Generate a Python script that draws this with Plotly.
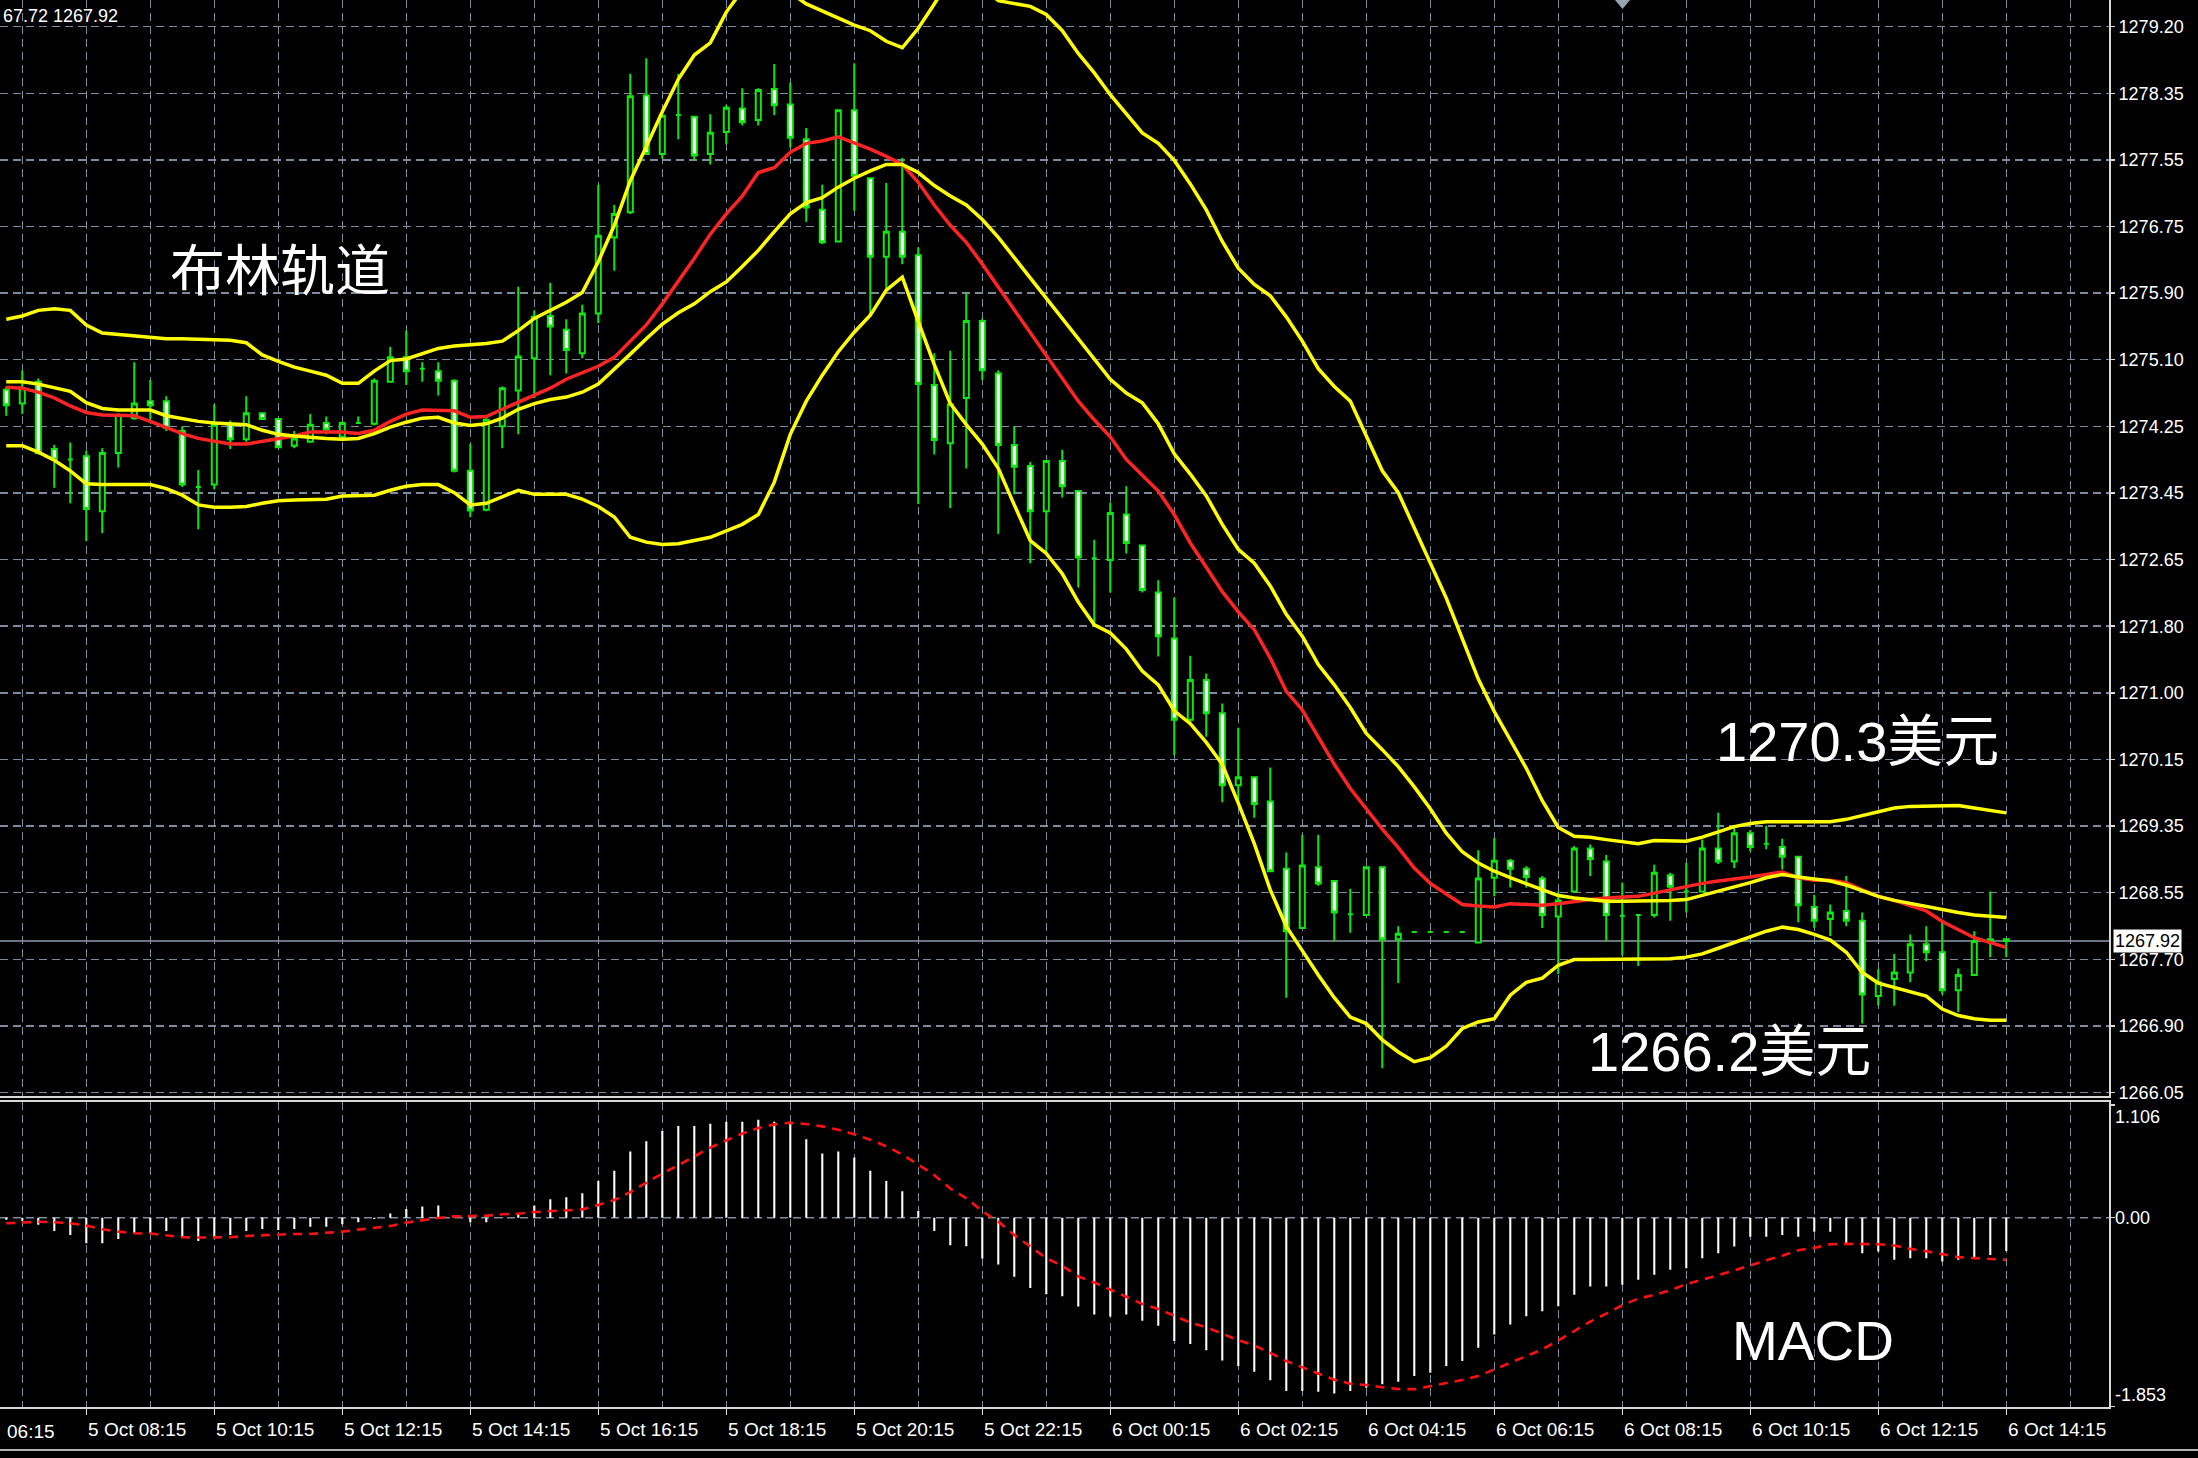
import numpy as np
import plotly.graph_objects as go

# ---------------- data (15-minute bars, 5 Oct 07:00 ... 6 Oct 14:15) ----------------
open_ = [1274.72, 1274.55, 1274.82, 1273.99, 1273.86, 1273.90, 1273.22, 1273.94, 1274.37, 1274.58,
         1274.58, 1274.21, 1273.52, 1273.55, 1274.29, 1274.11, 1274.43, 1274.36, 1274.03, 1274.08,
         1274.31, 1274.14, 1274.31, 1274.30, 1274.82, 1275.12, 1274.98, 1274.95, 1274.83, 1273.72,
         1273.24, 1274.27, 1274.71, 1275.11, 1275.63, 1275.46, 1275.17, 1275.66, 1276.60, 1276.91,
         1278.35, 1277.63, 1278.11, 1278.09, 1277.63, 1277.90, 1278.19, 1278.05, 1278.43, 1278.24,
         1277.81, 1276.94, 1276.55, 1278.17, 1277.33, 1276.36, 1276.67, 1276.38, 1274.78, 1274.06,
         1274.62, 1275.57, 1274.92, 1274.04, 1273.78, 1273.22, 1273.84, 1273.47, 1272.64, 1272.62,
         1273.18, 1272.80, 1272.22, 1271.65, 1270.65, 1271.14, 1270.73, 1269.84, 1269.94, 1269.64,
         1268.81, 1268.08, 1268.83, 1268.66, 1268.25, 1268.24, 1268.83, 1267.94, 1268.03, 1268.03,
         1268.03, 1268.03, 1267.90, 1268.70, 1268.91, 1268.81, 1268.69, 1268.22, 1268.53, 1269.06,
         1268.90, 1268.23, 1268.24, 1268.24, 1268.73, 1268.53, 1268.53, 1269.06, 1268.90, 1269.25,
         1269.12, 1269.08, 1268.96, 1268.34, 1268.19, 1268.29, 1268.17, 1267.24, 1267.45, 1267.53,
         1267.88, 1267.78, 1267.31, 1267.50, 1267.92, 1267.94]
high = [1274.76, 1274.96, 1274.86, 1274.04, 1274.07, 1273.97, 1274.00, 1274.43, 1275.06, 1274.84,
        1274.64, 1274.27, 1273.73, 1274.54, 1274.34, 1274.64, 1274.44, 1274.37, 1274.21, 1274.42,
        1274.39, 1274.33, 1274.39, 1274.86, 1275.25, 1275.45, 1275.06, 1275.06, 1274.85, 1274.05,
        1274.37, 1274.76, 1275.99, 1275.70, 1276.04, 1275.59, 1275.77, 1277.25, 1277.00, 1278.62,
        1278.81, 1278.10, 1278.62, 1278.09, 1278.12, 1278.23, 1278.44, 1278.44, 1278.74, 1278.51,
        1277.95, 1277.25, 1278.17, 1278.75, 1277.33, 1277.27, 1277.58, 1276.48, 1275.17, 1275.20,
        1275.91, 1275.60, 1274.96, 1274.27, 1273.83, 1273.85, 1273.98, 1273.47, 1272.87, 1273.33,
        1273.53, 1272.80, 1272.37, 1272.16, 1271.44, 1271.22, 1270.85, 1270.55, 1269.94, 1270.06,
        1269.01, 1269.23, 1269.23, 1268.66, 1268.56, 1268.83, 1268.83, 1268.10, 1268.03, 1268.03,
        1268.03, 1268.03, 1269.04, 1269.19, 1268.93, 1268.84, 1268.72, 1268.53, 1269.09, 1269.11,
        1268.98, 1268.64, 1268.24, 1268.86, 1268.76, 1268.88, 1269.17, 1269.50, 1269.35, 1269.29,
        1269.34, 1269.18, 1268.96, 1268.49, 1268.37, 1268.72, 1268.27, 1267.57, 1267.76, 1268.00,
        1268.10, 1268.15, 1267.58, 1268.04, 1268.53, 1267.94]
low = [1274.40, 1274.42, 1273.92, 1273.51, 1273.32, 1272.85, 1272.95, 1273.76, 1274.35, 1274.33,
       1274.21, 1273.52, 1273.00, 1273.49, 1273.99, 1274.08, 1274.35, 1274.00, 1274.00, 1274.07,
       1274.17, 1274.13, 1274.30, 1274.28, 1274.81, 1274.78, 1274.82, 1274.65, 1273.70, 1273.15,
       1273.22, 1274.00, 1274.17, 1274.62, 1274.90, 1274.92, 1275.11, 1275.54, 1276.19, 1276.89,
       1277.62, 1277.57, 1277.81, 1277.55, 1277.50, 1277.75, 1277.98, 1277.98, 1278.11, 1277.71,
       1276.79, 1276.52, 1276.54, 1276.93, 1275.64, 1275.97, 1276.27, 1273.31, 1273.92, 1273.26,
       1273.75, 1274.84, 1272.94, 1273.43, 1272.58, 1272.69, 1273.39, 1272.28, 1271.80, 1272.22,
       1272.70, 1272.22, 1271.43, 1270.21, 1270.58, 1270.44, 1269.63, 1269.63, 1269.44, 1268.78,
       1267.22, 1268.08, 1268.60, 1267.92, 1268.02, 1268.24, 1266.35, 1267.40, 1268.03, 1268.03,
       1268.03, 1268.03, 1267.89, 1268.47, 1268.58, 1268.58, 1268.08, 1267.51, 1268.53, 1268.72,
       1267.92, 1267.74, 1267.61, 1268.21, 1268.17, 1268.27, 1268.53, 1268.87, 1268.82, 1269.03,
       1269.05, 1268.80, 1268.15, 1268.08, 1267.98, 1268.10, 1266.90, 1267.12, 1267.12, 1267.41,
       1267.67, 1267.26, 1267.04, 1267.50, 1267.72, 1267.72]
close = [1274.53, 1274.74, 1273.94, 1273.86, 1273.86, 1273.25, 1273.94, 1274.41, 1274.55, 1274.53,
         1274.25, 1273.55, 1273.52, 1274.29, 1274.11, 1274.43, 1274.36, 1274.01, 1274.12, 1274.29,
         1274.23, 1274.31, 1274.31, 1274.83, 1275.12, 1274.95, 1274.98, 1274.83, 1273.72, 1273.23,
         1274.35, 1274.74, 1275.13, 1275.62, 1275.50, 1275.21, 1275.66, 1276.62, 1276.89, 1278.34,
         1277.63, 1278.10, 1278.11, 1277.61, 1277.89, 1278.20, 1278.02, 1278.42, 1278.23, 1277.83,
         1276.97, 1276.54, 1278.17, 1277.36, 1276.36, 1276.67, 1276.36, 1274.79, 1274.10, 1274.54,
         1275.57, 1274.96, 1274.04, 1273.77, 1273.22, 1273.84, 1273.53, 1272.65, 1272.64, 1273.20,
         1272.83, 1272.25, 1271.68, 1270.65, 1271.14, 1270.73, 1269.84, 1269.94, 1269.61, 1268.78,
         1268.04, 1268.85, 1268.63, 1268.27, 1268.25, 1268.83, 1267.94, 1268.01, 1268.03, 1268.03,
         1268.03, 1268.03, 1268.69, 1268.91, 1268.81, 1268.71, 1268.24, 1268.42, 1269.06, 1268.93,
         1268.24, 1268.23, 1268.24, 1268.76, 1268.59, 1268.53, 1269.06, 1268.90, 1269.25, 1269.08,
         1269.12, 1268.96, 1268.36, 1268.17, 1268.27, 1268.17, 1267.26, 1267.41, 1267.53, 1267.88,
         1267.78, 1267.31, 1267.50, 1267.92, 1267.94, 1267.92]

bb_upper = [1275.59, 1275.63, 1275.70, 1275.72, 1275.70, 1275.52, 1275.42, 1275.40, 1275.38, 1275.36,
            1275.35, 1275.35, 1275.34, 1275.33, 1275.33, 1275.30, 1275.15, 1275.07, 1275.00, 1274.95,
            1274.90, 1274.80, 1274.80, 1274.95, 1275.08, 1275.10, 1275.16, 1275.23, 1275.26, 1275.27,
            1275.29, 1275.32, 1275.45, 1275.60, 1275.70, 1275.80, 1275.92, 1276.30, 1276.75, 1277.30,
            1277.72, 1278.15, 1278.55, 1278.85, 1279.00, 1279.38, 1279.65, 1279.85, 1279.95, 1279.62,
            1279.48, 1279.39, 1279.30, 1279.22, 1279.15, 1279.02, 1278.94, 1279.18, 1279.48, 1279.80,
            1279.90, 1279.70, 1279.52, 1279.49, 1279.45, 1279.35, 1279.15, 1278.87, 1278.63, 1278.36,
            1278.12, 1277.89, 1277.76, 1277.55, 1277.26, 1276.94, 1276.55, 1276.22, 1276.02, 1275.88,
            1275.62, 1275.32, 1274.98, 1274.76, 1274.58, 1274.15, 1273.72, 1273.45, 1273.02, 1272.60,
            1272.15, 1271.65, 1271.15, 1270.75, 1270.40, 1270.05, 1269.65, 1269.32, 1269.21, 1269.20,
            1269.17, 1269.14, 1269.12, 1269.16, 1269.16, 1269.15, 1269.20, 1269.27, 1269.33, 1269.37,
            1269.39, 1269.39, 1269.39, 1269.39, 1269.39, 1269.42, 1269.47, 1269.52, 1269.56, 1269.58,
            1269.58, 1269.59, 1269.59, 1269.56, 1269.53, 1269.50]
bb_middle = [1274.82, 1274.82, 1274.79, 1274.75, 1274.70, 1274.56, 1274.49, 1274.47, 1274.47, 1274.47,
             1274.40, 1274.36, 1274.33, 1274.31, 1274.30, 1274.29, 1274.22, 1274.17, 1274.15, 1274.13,
             1274.12, 1274.11, 1274.12, 1274.18, 1274.26, 1274.32, 1274.37, 1274.38, 1274.31, 1274.28,
             1274.30, 1274.37, 1274.48, 1274.55, 1274.60, 1274.63, 1274.69, 1274.79, 1274.97, 1275.16,
             1275.35, 1275.53, 1275.67, 1275.78, 1275.93, 1276.05, 1276.24, 1276.44, 1276.67, 1276.89,
             1277.03, 1277.09, 1277.22, 1277.33, 1277.42, 1277.50, 1277.50, 1277.40, 1277.24, 1277.11,
             1277.00, 1276.82, 1276.60, 1276.35, 1276.10, 1275.85, 1275.60, 1275.35, 1275.10, 1274.85,
             1274.68, 1274.56, 1274.30, 1273.93, 1273.68, 1273.41, 1273.06, 1272.75, 1272.58, 1272.30,
             1271.95, 1271.68, 1271.33, 1271.08, 1270.80, 1270.48, 1270.28, 1270.07, 1269.82, 1269.55,
             1269.25, 1269.02, 1268.88, 1268.78, 1268.70, 1268.63, 1268.56, 1268.48, 1268.45, 1268.43,
             1268.41, 1268.41, 1268.41, 1268.42, 1268.42, 1268.43, 1268.48, 1268.53, 1268.58, 1268.64,
             1268.70, 1268.74, 1268.71, 1268.69, 1268.66, 1268.61, 1268.54, 1268.47, 1268.42, 1268.38,
             1268.35, 1268.31, 1268.27, 1268.24, 1268.22, 1268.21]
bb_lower = [1274.03, 1274.03, 1273.95, 1273.85, 1273.72, 1273.56, 1273.55, 1273.55, 1273.55, 1273.55,
            1273.50, 1273.42, 1273.30, 1273.27, 1273.27, 1273.28, 1273.32, 1273.35, 1273.36, 1273.36,
            1273.37, 1273.41, 1273.42, 1273.42, 1273.48, 1273.53, 1273.55, 1273.55, 1273.45, 1273.30,
            1273.32, 1273.40, 1273.48, 1273.43, 1273.43, 1273.43, 1273.37, 1273.28, 1273.15, 1272.90,
            1272.84, 1272.81, 1272.82, 1272.86, 1272.90, 1272.98, 1273.06, 1273.18, 1273.58, 1274.17,
            1274.58, 1274.90, 1275.19, 1275.43, 1275.64, 1275.95, 1276.11, 1275.56, 1275.03, 1274.55,
            1274.29, 1274.05, 1273.75, 1273.30, 1272.86, 1272.70, 1272.45, 1272.10, 1271.82, 1271.72,
            1271.52, 1271.25, 1271.08, 1270.76, 1270.60, 1270.37, 1270.10, 1269.62, 1269.12, 1268.55,
            1268.10, 1267.80, 1267.50, 1267.22, 1266.98, 1266.90, 1266.70, 1266.55, 1266.43, 1266.48,
            1266.62, 1266.84, 1266.92, 1266.96, 1267.25, 1267.41, 1267.46, 1267.62, 1267.69, 1267.69,
            1267.69, 1267.69, 1267.69, 1267.70, 1267.70, 1267.72, 1267.76, 1267.83, 1267.90, 1267.96,
            1268.04, 1268.09, 1268.06, 1268.00, 1267.93, 1267.78, 1267.53, 1267.40, 1267.35, 1267.29,
            1267.24, 1267.08, 1267.00, 1266.96, 1266.94, 1266.94]
ma_red = [1274.75, 1274.74, 1274.69, 1274.62, 1274.52, 1274.44, 1274.41, 1274.40, 1274.40, 1274.33,
          1274.25, 1274.18, 1274.12, 1274.08, 1274.05, 1274.05, 1274.08, 1274.12, 1274.15, 1274.20,
          1274.20, 1274.20, 1274.18, 1274.22, 1274.33, 1274.42, 1274.47, 1274.47, 1274.46, 1274.38,
          1274.39, 1274.48, 1274.57, 1274.66, 1274.74, 1274.85, 1274.93, 1275.01, 1275.12, 1275.32,
          1275.52, 1275.78, 1276.06, 1276.34, 1276.64, 1276.89, 1277.11, 1277.40, 1277.46, 1277.65,
          1277.76, 1277.79, 1277.84, 1277.77, 1277.69, 1277.60, 1277.50, 1277.28, 1277.00, 1276.75,
          1276.54, 1276.27, 1275.99, 1275.70, 1275.42, 1275.15, 1274.87, 1274.58, 1274.35, 1274.14,
          1273.86, 1273.66, 1273.47, 1273.18, 1272.83, 1272.53, 1272.23, 1271.98, 1271.76, 1271.41,
          1271.00, 1270.77, 1270.44, 1270.10, 1269.80, 1269.55, 1269.30, 1269.07, 1268.82, 1268.63,
          1268.50, 1268.37, 1268.35, 1268.34, 1268.38, 1268.37, 1268.36, 1268.38, 1268.41, 1268.43,
          1268.45, 1268.46, 1268.47, 1268.51, 1268.55, 1268.60, 1268.63, 1268.66, 1268.68, 1268.71,
          1268.74, 1268.77, 1268.70, 1268.67, 1268.67, 1268.64, 1268.55, 1268.47, 1268.42, 1268.35,
          1268.29, 1268.16, 1268.06, 1267.96, 1267.90, 1267.84]

macd_hist = [-0.02, -0.03, -0.07, -0.13, -0.17, -0.25, -0.25, -0.21, -0.15, -0.15,
             -0.13, -0.20, -0.23, -0.19, -0.17, -0.13, -0.11, -0.12, -0.11, -0.09,
             -0.09, -0.065, -0.045, -0.013, 0.04, 0.085, 0.11, 0.12, 0.01, -0.045,
             -0.045, 0.005, 0.03, 0.12, 0.18, 0.20, 0.24, 0.36, 0.46, 0.65,
             0.75, 0.85, 0.90, 0.90, 0.92, 0.94, 0.94, 0.96, 0.94, 0.94,
             0.77, 0.63, 0.65, 0.59, 0.46, 0.36, 0.26, 0.065, -0.13, -0.27,
             -0.28, -0.40, -0.46, -0.58, -0.69, -0.75, -0.77, -0.87, -0.95, -0.97,
             -0.95, -1.01, -1.06, -1.21, -1.24, -1.30, -1.40, -1.455, -1.51, -1.595,
             -1.70, -1.70, -1.706, -1.725, -1.70, -1.667, -1.634, -1.608, -1.553, -1.52,
             -1.455, -1.406, -1.276, -1.146, -1.048, -0.967, -0.918, -0.869, -0.755, -0.674,
             -0.674, -0.658, -0.609, -0.56, -0.511, -0.495, -0.397, -0.348, -0.283, -0.186,
             -0.186, -0.169, -0.186, -0.137, -0.137, -0.267, -0.348, -0.332, -0.413, -0.397,
             -0.397, -0.43, -0.413, -0.397, -0.365, -0.326]
macd_signal = [-0.055, -0.05, -0.04, -0.045, -0.055, -0.078, -0.114, -0.137, -0.153, -0.156,
               -0.173, -0.192, -0.195, -0.195, -0.192, -0.179, -0.173, -0.163, -0.16, -0.16,
               -0.15, -0.137, -0.117, -0.098, -0.081, -0.049, -0.023, -0.003, 0.013, 0.016,
               0.02, 0.033, 0.039, 0.055, 0.062, 0.075, 0.081, 0.124, 0.173, 0.251,
               0.345, 0.433, 0.514, 0.602, 0.687, 0.758, 0.824, 0.879, 0.915, 0.931,
               0.918, 0.895, 0.863, 0.817, 0.765, 0.70, 0.618, 0.521, 0.417, 0.286,
               0.189, 0.065, -0.039, -0.169, -0.283, -0.397, -0.472, -0.576, -0.635, -0.706,
               -0.781, -0.846, -0.895, -0.964, -1.029, -1.074, -1.139, -1.201, -1.253, -1.325,
               -1.406, -1.468, -1.53, -1.589, -1.628, -1.641, -1.663, -1.68, -1.683, -1.654,
               -1.621, -1.592, -1.553, -1.488, -1.416, -1.357, -1.292, -1.204, -1.113, -1.019,
               -0.941, -0.859, -0.794, -0.758, -0.713, -0.651, -0.609, -0.566, -0.518, -0.469,
               -0.417, -0.374, -0.319, -0.296, -0.26, -0.257, -0.257, -0.26, -0.273, -0.306,
               -0.329, -0.358, -0.387, -0.397, -0.404, -0.413]

x_tick_bars = [5, 13, 21, 29, 37, 45, 53, 61, 69, 77, 85, 93, 101, 109, 117, 125]
x_tick_text = ["5 Oct 08:15", "5 Oct 10:15", "5 Oct 12:15", "5 Oct 14:15", "5 Oct 16:15",
               "5 Oct 18:15", "5 Oct 20:15", "5 Oct 22:15", "6 Oct 00:15", "6 Oct 02:15",
               "6 Oct 04:15", "6 Oct 06:15", "6 Oct 08:15", "6 Oct 10:15", "6 Oct 12:15",
               "6 Oct 14:15"]
y_tick_text = ["1279.20", "1278.35", "1277.55", "1276.75", "1275.90", "1275.10", "1274.25",
               "1273.45", "1272.65", "1271.80", "1271.00", "1270.15", "1269.35", "1268.55",
               "1267.70", "1266.90", "1266.05"]
y_tick_top, y_tick_bottom = 1279.20, 1266.05
macd_tick_vals = [1.106, 0.0, -1.853]
macd_tick_text = ["1.106", "0.00", "-1.853"]
bid = 1267.92
header_text = "67.72 1267.92"

# ---------------- styling ----------------
W, H = 2198, 1458
GREEN = "#14e614"
YEL = "#ffff00"
RED = "#ff2424"
GRID = "#7c8c9e"
GDASH = "8px,5px"
AX = "#d8d8d8"
FONT = "Liberation Sans, Arial, sans-serif"
CJK = "Liberation Sans, Arial, Noto Sans CJK SC, sans-serif"

XR = 2109 / W                      # right edge of the panes (price scale line)
x_lo, x_hi = -0.394, 131.42        # bar-index range shown
p_lo, p_hi = 1266.001, 1279.529    # price range of the main pane
m_lo, m_hi = -1.8584, 1.1299       # MACD pane range
Y1 = [1 - 1101 / H, 1.0]
Y2 = [1 - 1413 / H, 1 - 1107 / H]

xb = list(range(len(close)))
yt = list(np.linspace(y_tick_top, y_tick_bottom, len(y_tick_text)))

fig = go.Figure()
fig.add_trace(go.Candlestick(
    x=xb, open=open_, high=high, low=low, close=close,
    increasing=dict(line=dict(color=GREEN, width=2), fillcolor="#000000"),
    decreasing=dict(line=dict(color=GREEN, width=2), fillcolor="#ffffff"),
    whiskerwidth=0, hoverinfo="skip", xaxis="x", yaxis="y"))
for vals, col in [(ma_red, RED), (bb_middle, YEL), (bb_upper, YEL), (bb_lower, YEL)]:
    fig.add_trace(go.Scatter(x=xb, y=vals, mode="lines", line=dict(color=col, width=3.5),
                             hoverinfo="skip", xaxis="x", yaxis="y"))
fig.add_trace(go.Bar(x=xb, y=macd_hist, width=0.13, marker=dict(color="#ffffff", line=dict(width=0)),
                     hoverinfo="skip", xaxis="x2", yaxis="y2"))
fig.add_trace(go.Scatter(x=xb, y=macd_signal, mode="lines",
                         line=dict(color="#ff1010", width=2.6, dash="9px,7px"),
                         hoverinfo="skip", xaxis="x2", yaxis="y2"))

grid = dict(showgrid=True, gridcolor=GRID, griddash=GDASH, gridwidth=1.5)
fig.update_layout(
    width=W, height=H, margin=dict(l=0, r=0, t=0, b=0),
    paper_bgcolor="#000000", plot_bgcolor="#000000",
    showlegend=False, hovermode=False, boxgap=0.55, dragmode=False,
    xaxis=dict(domain=[0, XR], range=[x_lo, x_hi], anchor="y", rangeslider=dict(visible=False),
               showline=True, linecolor=AX, linewidth=2, tickmode="linear", tick0=1, dtick=4,
               showticklabels=False, ticks="", zeroline=False, fixedrange=True, **grid),
    yaxis=dict(domain=Y1, range=[p_lo, p_hi], anchor="x", side="right",
               showline=True, linecolor=AX, linewidth=2,
               tickmode="array", tickvals=yt, ticktext=y_tick_text,
               ticks="outside", ticklen=4, tickwidth=1.5, tickcolor=AX,
               tickfont=dict(color="#ffffff", size=18, family=FONT),
               zeroline=False, fixedrange=True, **grid),
    xaxis2=dict(domain=[0, XR], range=[x_lo, x_hi], anchor="y2",
                showline=True, mirror=True, linecolor=AX, linewidth=2,
                tickmode="array", tickvals=x_tick_bars, ticktext=x_tick_text,
                ticks="outside", ticklen=6, tickwidth=1.5, tickcolor=AX,
                ticklabelposition="outside right", ticklabelstandoff=4,
                tickfont=dict(color="#ffffff", size=19, family=FONT),
                zeroline=False, fixedrange=True,
                minor=dict(tickmode="linear", tick0=1, dtick=4, ticks="", **grid), **grid),
    yaxis2=dict(domain=Y2, range=[m_lo, m_hi], anchor="x2", side="right",
                showline=True, linecolor=AX, linewidth=2,
                tickmode="array", tickvals=macd_tick_vals, showticklabels=False,
                ticks="outside", ticklen=4, tickwidth=1.5, tickcolor=AX,
                showgrid=False, zeroline=False, fixedrange=True),
)

shapes = [
    dict(type="line", xref="x2 domain", x0=0, x1=1, yref="y2", y0=0, y1=0,
         line=dict(color=GRID, width=1.5, dash=GDASH), layer="below"),
    dict(type="line", xref="x domain", x0=0, x1=1, yref="y", y0=bid, y1=bid,
         line=dict(color="#8e9cab", width=1.5), layer="below"),
    dict(type="line", xref="paper", x0=0, x1=1, yref="paper", y0=1 - 1456 / H, y1=1 - 1456 / H,
         line=dict(color="#b0b0b0", width=2)),
    dict(type="path", xref="paper", yref="paper",
         path=f"M {1615 / W} 1 L {1630 / W} 1 L {1622.5 / W} {1 - 9 / H} Z",
         fillcolor="#9aa4b0", line=dict(width=0)),
]
fig.update_layout(shapes=shapes)

ann = []
# MACD scale labels
for v, t, ya in zip(macd_tick_vals, macd_tick_text, ["top", "middle", "bottom"]):
    ann.append(dict(xref="paper", x=2113 / W, xanchor="left", yref="y2", y=v, yanchor=ya,
                    text=t, showarrow=False, font=dict(color="#ffffff", size=18, family=FONT)))
# current price box
ann.append(dict(xref="paper", x=2113 / W, xanchor="left", yref="y", y=bid, yanchor="middle",
                text=f"{bid:.2f}", showarrow=False, bgcolor="#ffffff", borderpad=1,
                font=dict(color="#000000", size=18, family=FONT)))
# header and clipped first time label
ann.append(dict(xref="paper", x=1 / W, xanchor="left", yref="paper", y=1 - 16 / H, yanchor="middle",
                text=header_text, showarrow=False, font=dict(color="#ffffff", size=18, family=FONT)))
ann.append(dict(xref="paper", x=5 / W, xanchor="left", yref="paper", y=1 - 1437 / H, yanchor="middle",
                text="06:15", showarrow=False, font=dict(color="#ffffff", size=19, family=FONT)))
# chart captions
ann.append(dict(xref="paper", x=168 / W, xanchor="left", yref="paper", y=1 - 272 / H, yanchor="middle",
                text="布林轨道", showarrow=False, font=dict(color="#ffffff", size=55, family=CJK)))
ann.append(dict(xref="paper", x=1714 / W, xanchor="left", yref="paper", y=1 - 745 / H, yanchor="middle",
                text="1270.3美元", showarrow=False, font=dict(color="#ffffff", size=56, family=CJK)))
ann.append(dict(xref="paper", x=1586 / W, xanchor="left", yref="paper", y=1 - 1056 / H, yanchor="middle",
                text="1266.2美元", showarrow=False, font=dict(color="#ffffff", size=56, family=CJK)))
ann.append(dict(xref="paper", x=1730 / W, xanchor="left", yref="paper", y=1 - 1347 / H, yanchor="middle",
                text="MACD", showarrow=False, font=dict(color="#ffffff", size=55, family=FONT)))
fig.update_layout(annotations=ann)

page_fix = (
    "document.documentElement.style.margin='0';"
    "document.body.style.margin='0';"
    "document.documentElement.style.background='#000000';"
    "document.body.style.background='#000000';"
    "document.documentElement.style.overflow='hidden';"
    "document.body.style.overflow='hidden';"
)
fig.write_html("out.html", config={"displayModeBar": False, "staticPlot": True},
               post_script=page_fix)
